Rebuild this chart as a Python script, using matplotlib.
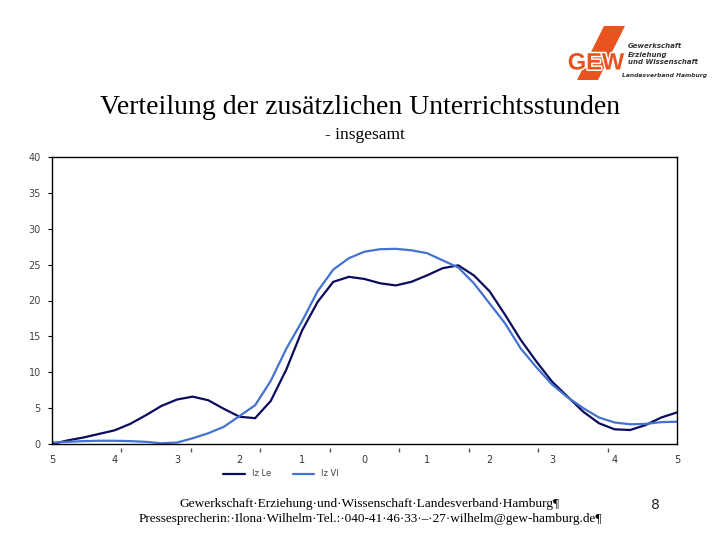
import numpy as np
import matplotlib
matplotlib.use("Agg")
import matplotlib.pyplot as plt
from matplotlib.patches import Polygon
import matplotlib.patheffects as pe

# ---------------- data ----------------
x_vals = [-5.0, -4.75, -4.5, -4.25, -4.0, -3.75, -3.5, -3.25, -3.0, -2.75,
          -2.5, -2.25, -2.0, -1.75, -1.5, -1.25, -1.0, -0.75, -0.5, -0.25,
          0.0, 0.25, 0.5, 0.75, 1.0, 1.25, 1.5, 1.75, 2.0, 2.25,
          2.5, 2.75, 3.0, 3.25, 3.5, 3.75, 4.0, 4.25, 4.5, 4.75, 5.0]

iz_le = [0.0, 0.5, 0.9, 1.4, 1.9, 2.8, 4.0, 5.3, 6.2, 6.6,
         6.1, 4.9, 3.8, 3.6, 6.0, 10.4, 15.8, 19.8, 22.6, 23.3,
         23.0, 22.4, 22.1, 22.6, 23.5, 24.5, 24.9, 23.5, 21.3, 18.0,
         14.5, 11.5, 8.7, 6.6, 4.5, 2.9, 2.05, 1.95, 2.65, 3.7, 4.4]

iz_vl = [0.2, 0.3, 0.4, 0.45, 0.45, 0.4, 0.3, 0.1, 0.2, 0.8,
         1.5, 2.4, 3.9, 5.4, 8.8, 13.3, 17.1, 21.3, 24.3, 25.9,
         26.8, 27.15, 27.2, 27.0, 26.6, 25.6, 24.6, 22.4, 19.6, 16.8,
         13.3, 10.7, 8.3, 6.5, 5.0, 3.7, 3.0, 2.75, 2.8, 3.05, 3.1]

x_ticks = [-5, -4, -3, -2, -1, 0, 1, 2, 3, 4, 5]
x_tick_labels = ["5", "4", "3", "2", "1", "0", "1", "2", "3", "4", "5"]
y_ticks = [0, 5, 10, 15, 20, 25, 30, 35, 40]
y_tick_labels = ["0", "5", "10", "15", "20", "25", "30", "35", "40"]
series_labels = ["Iz Le", "Iz Vl"]

title = "Verteilung der zusätzlichen Unterrichtsstunden"
subtitle = "- insgesamt"
footer1 = "Gewerkschaft·Erziehung·und·Wissenschaft·Landesverband·Hamburg¶"
footer2 = "Pressesprecherin:·Ilona·Wilhelm·Tel.:·040-41·46·33·–·27·wilhelm@gew-hamburg.de¶"
page_no = "8"

# ---------------- figure ----------------
W, H = 720, 540
fig = plt.figure(figsize=(7.2, 5.4), dpi=100)
fig.patch.set_facecolor("white")

DARK = "#0B0B5E"
LIGHT = "#4472CF"

ax = fig.add_axes([52 / W, (H - 444) / H, 625 / W, 287 / H])
ax.plot(x_vals, iz_le, color=DARK, lw=1.6, label=series_labels[0], solid_capstyle="round")
ax.plot(x_vals, iz_vl, color=LIGHT, lw=1.6, label=series_labels[1], solid_capstyle="round")
ax.set_xlim(-5, 5)
ax.set_ylim(0, 40)
ax.set_xticks(x_ticks)
ax.set_xticklabels(x_tick_labels)
ax.set_yticks(y_ticks)
ax.set_yticklabels(y_tick_labels)
ax.tick_params(axis="x", length=0, pad=8, labelsize=7, labelcolor="#333333")
ax.tick_params(axis="y", direction="out", length=3, width=0.8, pad=5,
               labelsize=7, labelcolor="#444444")
for s in ax.spines.values():
    s.set_linewidth(1.0)
    s.set_color("black")

# small stray marks below the x axis (decorative)
mark_pos = np.linspace(-5, 5, 10)[1:-1]
ax.plot(mark_pos, [-0.022] * len(mark_pos), linestyle="none", marker="|",
        markersize=3, color="#555555", transform=ax.get_xaxis_transform(),
        clip_on=False)

leg = fig.legend(loc="center", bbox_to_anchor=(281 / W, 1 - 474 / H), ncol=2,
                 frameon=False, fontsize=6, handlelength=2.6, handletextpad=0.8,
                 columnspacing=2.6, labelcolor="#444444")

# ---------------- overlay for page texts / logo ----------------
ov = fig.add_axes([0, 0, 1, 1], facecolor="none")
ov.set_xlim(0, W)
ov.set_ylim(H, 0)
ov.axis("off")

ov.text(360, 107, title, ha="center", va="center", fontsize=20,
        family="Liberation Serif", color="black")
ov.text(365, 135, subtitle, ha="center", va="center", fontsize=12.5,
        family="Liberation Serif", color="black")
ov.text(370, 504, footer1, ha="center", va="center", fontsize=9.6,
        family="Liberation Serif", color="black")
ov.text(370, 519, footer2, ha="center", va="center", fontsize=9.5,
        family="Liberation Serif", color="black")
ov.text(655, 505, page_no, ha="center", va="center", fontsize=10,
        family="DejaVu Sans", color="#222222")

# GEW logo
ORANGE = "#E8531E"
ov.add_patch(Polygon([(604, 26), (625, 26), (598, 80), (577, 80)],
                     closed=True, facecolor=ORANGE, edgecolor="none"))
gew = ov.text(596, 63, "GEW", ha="center", va="center", fontsize=17,
              family=["Liberation Sans Narrow", "Liberation Sans"],
              fontweight="bold", color=ORANGE)
gew.set_path_effects([pe.withStroke(linewidth=2.2, foreground="white")])
for txt, yy in [("Gewerkschaft", 46.5), ("Erziehung", 54.5),
                ("und Wissenschaft", 62.5)]:
    ov.text(628, yy, txt, ha="left", va="center", fontsize=5,
            fontweight="bold", fontstyle="italic", family="DejaVu Sans",
            color="#333333")
ov.text(622, 76, "Landesverband Hamburg", ha="left", va="center", fontsize=4.3,
        fontweight="bold", fontstyle="italic", family="DejaVu Sans",
        color="#333333")

fig.savefig("out.png", dpi=100, facecolor="white")
